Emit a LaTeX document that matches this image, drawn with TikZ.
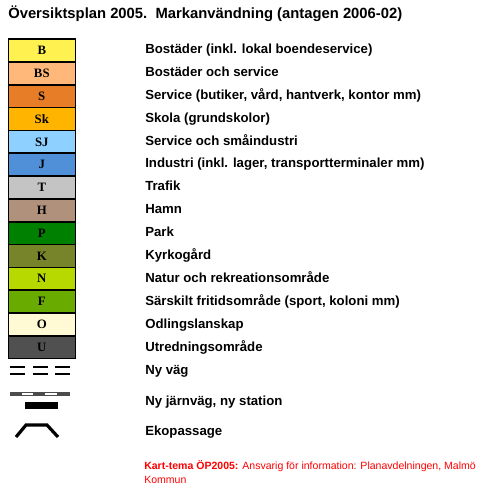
\documentclass[tikz,border=0pt]{standalone}
\usepackage{fontspec}
\setmainfont{Liberation Sans}
\newfontfamily\boxfont{Liberation Serif}
\begin{document}
\begin{tikzpicture}[x=0.75pt,y=-0.75pt,
  legbox/.style={draw=black,line width=1.2pt,minimum width=67*0.75pt,minimum height=22.8*0.75pt,inner sep=0pt,anchor=north west,font=\boxfont\bfseries\fontsize{9.6pt}{11pt}\selectfont},
  lbl/.style={anchor=base west,inner sep=0pt,font=\bfseries\fontsize{9.9pt}{12pt}\selectfont},
  sym/.style={line width=1.5pt}]
\useasboundingbox (0,0) rectangle (483,491);
\fill[white] (0,0) rectangle (483,491);
\node[anchor=base west,inner sep=0pt,font=\bfseries\fontsize{11.1pt}{13pt}\selectfont] (title) at (8,18.5) {Översiktsplan 2005.\ \ Markanvändning (antagen 2006-02)};
\definecolor{cB}{HTML}{FFF250}
\definecolor{cBS}{HTML}{FFB87A}
\definecolor{cS}{HTML}{E87D28}
\definecolor{cSk}{HTML}{FFB400}
\definecolor{cSJ}{HTML}{8ED0FF}
\definecolor{cJ}{HTML}{4F90D8}
\definecolor{cT}{HTML}{C4C4C4}
\definecolor{cH}{HTML}{B0927C}
\definecolor{cP}{HTML}{008000}
\definecolor{cK}{HTML}{77842A}
\definecolor{cN}{HTML}{B8D900}
\definecolor{cF}{HTML}{6AAB00}
\definecolor{cO}{HTML}{FFFAD4}
\definecolor{cU}{HTML}{505050}
\foreach \code/\txt [count=\i from 0] in {B/Bostäder (inkl. lokal boendeservice),BS/Bostäder och service,S/{Service (butiker, vård, hantverk, kontor mm)},Sk/Skola (grundskolor),SJ/Service och småindustri,J/{Industri (inkl. lager, transportterminaler mm)},T/Trafik,H/Hamn,P/Park,K/Kyrkogård,N/Natur och rekreationsområde,F/{Särskilt fritidsområde (sport, koloni mm)},O/Odlingslanskap,U/Utredningsområde}{
  \node[legbox,fill=c\code] (box\code) at (7.5,38.5+22.8*\i) {\code};
  \node[lbl] (lbl\code) at (145,53.5+22.9*\i) {\txt};
}
% Ny väg
\foreach \a/\b in {10/25,33/48,55/70}{
  \draw[sym] (\a,367) -- (\b,367);
  \draw[sym] (\a,374) -- (\b,374);
}
\node[lbl] (lblvag) at (145,374.5) {Ny väg};
% Ny järnväg
\draw[line width=3pt,black!70] (10,394) -- (70,394);
\draw[line width=2pt,white] (22,394) -- (33,394) (45,394) -- (57,394);
\fill[black] (25,402) rectangle (58,409);
\node[lbl] (lbljarn) at (145,405.5) {Ny järnväg, ny station};
% Ekopassage
\draw[line width=2.4pt] (16,437) -- (26,425) -- (47,425) -- (58,437);
\node[lbl] (lbleko) at (145,435.5) {Ekopassage};
% footer
\node[anchor=base west,inner sep=0pt,text=red,font=\fontsize{7.9pt}{10.5pt}\selectfont] (foot1) at (144,469.5) {\textbf{Kart-tema ÖP2005:} Ansvarig för information: Planavdelningen, Malmö};
\node[anchor=base west,inner sep=0pt,text=red,font=\fontsize{7.9pt}{10.5pt}\selectfont] (foot2) at (144,483.5) {Kommun};
\end{tikzpicture}
\end{document}
